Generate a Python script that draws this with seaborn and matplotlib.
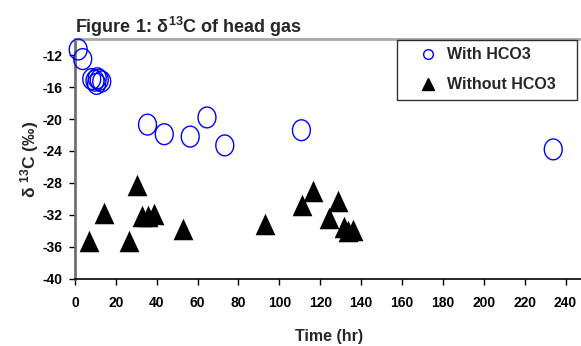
import matplotlib
matplotlib.use('Agg')
from matplotlib import pyplot as plt
from matplotlib.lines import Line2D
import numpy as np
import pandas as pd
import seaborn as sns

# values
with_time = [1.6, 3.8, 8.2, 9.8, 10.9, 11.9, 13.1, 10.6, 35.5, 43.7, 56.4, 64.6, 73.3, 110.8, 234.0]
with_d13c = [-11.3, -12.5, -15.0, -15.2, -14.9, -15.1, -15.3, -15.6, -20.7, -21.9, -22.2, -19.8, -23.3, -21.4, -23.8]

without_time = [7.0, 14.2, 26.2, 30.3, 32.7, 35.5, 38.9, 52.8, 92.9, 110.9, 116.5, 128.9, 124.3, 131.7, 133.5, 135.8]
without_d13c = [-35.2, -31.7, -35.3, -28.3, -32.1, -32.1, -31.9, -33.8, -33.1, -30.75, -29.0, -30.2, -32.4, -33.5, -34.0, -33.9]

x_ticks = list(range(0, 241, 20))
y_ticks = list(range(-40, -11, 4))

sns.set_style('white')
plt.rcParams['font.family'] = ['Liberation Sans', 'DejaVu Sans']
plt.rcParams['font.weight'] = 'bold'
plt.rcParams['axes.unicode_minus'] = False
plt.rcParams['mathtext.fontset'] = 'custom'
plt.rcParams['mathtext.rm'] = 'Liberation Sans:bold'
plt.rcParams['mathtext.it'] = 'Liberation Sans:bold'
plt.rcParams['mathtext.bf'] = 'Liberation Sans:bold'

# slightly tall open ellipse and a triangle, like the original markers
t = np.linspace(0, 2 * np.pi, 60)
ellipse = np.column_stack([0.86 * np.cos(t), np.sin(t)])
triangle = np.array([[0, 1], [-0.92, -1], [0.92, -1], [0, 1]])

df_with = pd.DataFrame({'Time': with_time, 'd13C': with_d13c})
df_without = pd.DataFrame({'Time': without_time, 'd13C': without_d13c})

fig = plt.figure(figsize=(5.81, 3.46), dpi=100)
ax = fig.add_axes([0.129, 0.194, 0.876, 0.693])

sns.scatterplot(data=df_with, x='Time', y='d13C', ax=ax, marker=ellipse, s=225,
                color='blue', linewidth=1.0, clip_on=False, zorder=3)
pts = ax.collections[0]
pts.set_facecolor('none')
pts.set_edgecolor('#0000ff')

sns.scatterplot(data=df_without, x='Time', y='d13C', ax=ax, marker=triangle, s=240,
                color='black', linewidth=0, zorder=3)

ax.set_xlim(0, 249)
ax.set_ylim(-40, -10)
ax.set_xticks(x_ticks)
ax.set_yticks(y_ticks)
ax.tick_params(axis='both', direction='out', length=4, width=1, labelsize=10,
               pad=5, bottom=True, left=True, colors='black')
ax.tick_params(axis='x', pad=8)
for lab in ax.get_xticklabels() + ax.get_yticklabels():
    lab.set_fontweight('bold')

ax.spines['left'].set_color('#707070')
ax.spines['left'].set_linewidth(2)
ax.spines['bottom'].set_color('black')
ax.spines['bottom'].set_linewidth(1.2)
ax.spines['top'].set_color('#a8a8a8')
ax.spines['top'].set_linewidth(2)
ax.spines['right'].set_visible(False)

ax.set_xlabel('Time (hr)', fontsize=11.5, fontweight='bold', labelpad=14)
ax.set_ylabel(r'$\delta$ $^{13}$C (‰)', fontsize=12.5, fontweight='bold', labelpad=1)

fig.text(0.129, 0.905, r'Figure 1: $\delta^{13}$C of head gas', fontsize=13,
         fontweight='bold', ha='left', va='baseline')

handles = [
    Line2D([], [], marker='o', linestyle='none', markersize=7, markerfacecolor='none',
           markeredgecolor='#0000ff', label='With HCO3'),
    Line2D([], [], marker='^', linestyle='none', markersize=8, color='black',
           label='Without HCO3'),
]
leg = ax.legend(handles=handles, loc='upper left', bbox_to_anchor=(0.633, 0.742, 0.353, 0.254),
                mode='expand', frameon=True, fancybox=False, edgecolor='black', fontsize=11.5,
                handletextpad=-0.35, handlelength=3.0, borderpad=0.45, labelspacing=0.95,
                borderaxespad=0)
leg.get_frame().set_linewidth(1)
for txt in leg.get_texts():
    txt.set_fontweight('bold')

fig.savefig('out.png', dpi=100)
